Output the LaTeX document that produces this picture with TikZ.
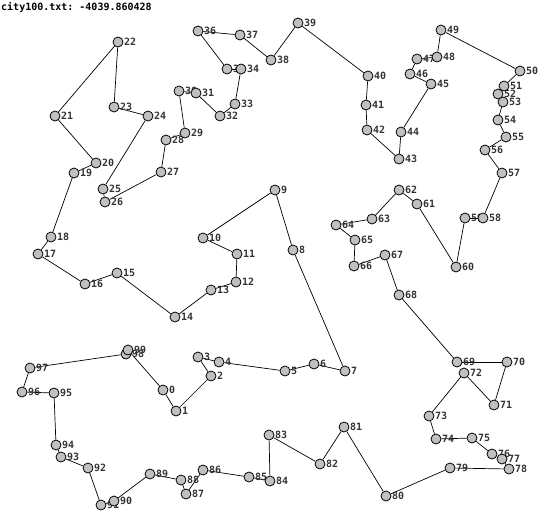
\documentclass[tikz,border=0pt]{standalone}
\usepackage{fontspec}
\setmonofont{DejaVu Sans Mono}
\usetikzlibrary{backgrounds}
\definecolor{cityfill}{RGB}{192,192,192}
\definecolor{lbltext}{RGB}{51,51,51}
\tikzset{
  city/.style={circle,draw=black,fill=cityfill,line width=0.8pt,minimum size=10pt,inner sep=0pt},
  lbl/.style={font=\ttfamily\bfseries\fontsize{10}{10}\selectfont,text=lbltext,inner sep=0pt,anchor=west},
  tour/.style={draw=black,line width=0.7pt}
}
\newcommand{\citylist}{
0/163/390,1/176/411,2/211/376,3/198/357,4/219/362,5/285/371,6/314/364,7/345/371,8/293/250,9/275/190,
10/203/238,11/237/254,12/236/282,13/211/290,14/175/317,15/117/273,16/85/284,17/38/254,18/51/237,19/74/173,
20/96/163,21/55/116,22/118/42,23/114/107,24/148/116,25/103/189,26/105/202,27/161/172,28/166/140,29/185/133,
30/179/91,31/196/93,32/220/116,33/235/104,34/241/69,35/227/69,36/198/31,37/240/35,38/271/60,39/298/23,
40/368/76,41/366/105,42/367/130,43/399/159,44/401/132,45/431/84,46/410/74,47/417/59,48/437/57,49/441/30,
50/520/71,51/504/86,52/498/94,53/503/102,54/498/120,55/506/137,56/485/150,57/502/173,58/483/218,59/465/218,
60/456/267,61/417/204,62/399/190,63/372/219,64/336/225,65/355/240,66/354/266,67/385/255,68/399/295,69/457/362,
70/507/362,71/494/405,72/464/373,73/429/416,74/436/439,75/472/438,76/492/454,77/502/459,78/509/469,79/450/468,
80/386/496,81/344/427,82/320/464,83/269/435,84/270/481,85/249/477,86/203/470,87/186/494,88/181/480,89/150/474,
90/114/501,91/101/505,92/88/468,93/61/457,94/56/445,95/54/393,96/22/392,97/30/368,98/126/354,99/128/350}
\begin{document}
\begin{tikzpicture}[x=1pt,y=-1pt]
\useasboundingbox (0,0) rectangle (539,525);
\node[anchor=west,inner sep=0pt,font=\ttfamily\bfseries\fontsize{10}{10}\selectfont] (title) at (1,7) {city100.txt: -4039.860428};
\foreach \i/\x/\y in \citylist {
  \node[lbl] (l\i) at (\x+5.8,\y) {\i};
}
\foreach \i/\x/\y in \citylist {
  \node[city] (c\i) at (\x,\y) {};
}
\begin{scope}[on background layer]
\foreach \i [remember=\i as \j (initially 99)] in {0,...,99}
  \draw[tour] (c\j) -- (c\i);
\end{scope}
\end{tikzpicture}
\end{document}
